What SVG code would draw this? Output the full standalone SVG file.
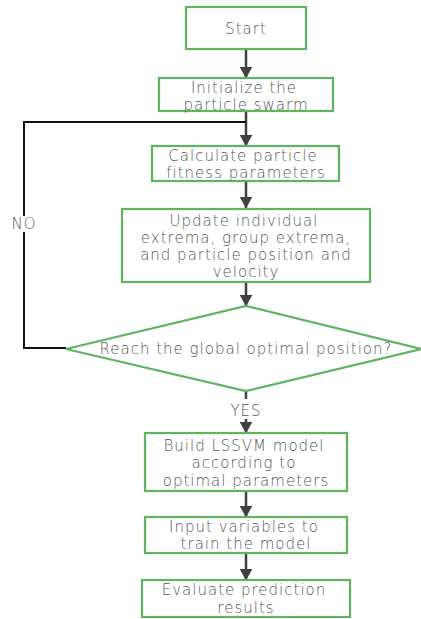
<svg xmlns="http://www.w3.org/2000/svg" width="421" height="619" viewBox="0 0 421 619">
<style>
.box{fill:#fff;stroke:#5fb45f;stroke-width:2.2}
.t{font-family:"DejaVu Sans",sans-serif;font-size:15px;letter-spacing:1px;fill:#555;text-anchor:middle;font-weight:200}
.c{fill:none;stroke:#404040;stroke-width:2.5}
.k{fill:none;stroke:#111;stroke-width:2}
</style>
<defs>
<marker id="ah" markerWidth="5" markerHeight="5" refX="4.4" refY="2.5" orient="auto" markerUnits="strokeWidth">
<path d="M0,0 L4.6,2.5 L0,5 Z" fill="#404040"/>
</marker>
</defs>
<rect width="421" height="619" fill="#fff"/>
<g id="connectors">
<path class="c" d="M246,49 V78" marker-end="url(#ah)"/>
<path class="c" d="M246,111 V146" marker-end="url(#ah)"/>
<path class="k" d="M66,348 H24 V122 H246"/>
<path class="c" d="M246,181 V208" marker-end="url(#ah)"/>
<path class="c" d="M246,282 V306" marker-end="url(#ah)"/>
<path class="c" d="M246,391 V399"/>
<path class="c" d="M246,419 V433" marker-end="url(#ah)"/>
<path class="c" d="M246,491 V517" marker-end="url(#ah)"/>
<path class="c" d="M246,553 V580" marker-end="url(#ah)"/>
<rect x="8" y="216" width="32" height="16" fill="#fff"/>
<text class="t" x="24" y="229">NO</text>
<text class="t" x="246" y="416">YES</text>
</g>
<g id="start">
<rect class="box" x="186" y="7" width="120" height="42"/>
<text class="t" x="246" y="34">Start</text>
</g>
<g id="init">
<rect class="box" x="159" y="78" width="174" height="33"/>
<text class="t" x="244" y="93">Initialize the</text>
<text class="t" x="246" y="110">particle swarm</text>
</g>
<g id="calc">
<rect class="box" x="152" y="146" width="187" height="35"/>
<text class="t" x="243" y="161">Calculate particle</text>
<text class="t" x="246" y="178">fitness parameters</text>
</g>
<g id="update">
<rect class="box" x="122" y="209" width="248" height="73"/>
<text class="t" x="244" y="226">Update individual</text>
<text class="t" x="246" y="243">extrema, group extrema,</text>
<text class="t" x="246" y="260">and particle position and</text>
<text class="t" x="246" y="277">velocity</text>
</g>
<g id="decision">
<polygon class="box" points="246,306 421,349 246,391 66,349"/>
<text class="t" x="246" y="354">Reach the global optimal position?</text>
</g>
<g id="build">
<rect class="box" x="145" y="433" width="202" height="58"/>
<text class="t" x="244" y="451">Build LSSVM model</text>
<text class="t" x="244" y="468">according to</text>
<text class="t" x="246" y="486">optimal parameters</text>
</g>
<g id="input">
<rect class="box" x="145" y="517" width="202" height="36"/>
<text class="t" x="244" y="532">Input variables to</text>
<text class="t" x="246" y="549">train the model</text>
</g>
<g id="evaluate">
<rect class="box" x="142" y="580" width="208" height="37"/>
<text class="t" x="244" y="595">Evaluate prediction</text>
<text class="t" x="246" y="613">results</text>
</g>
</svg>
